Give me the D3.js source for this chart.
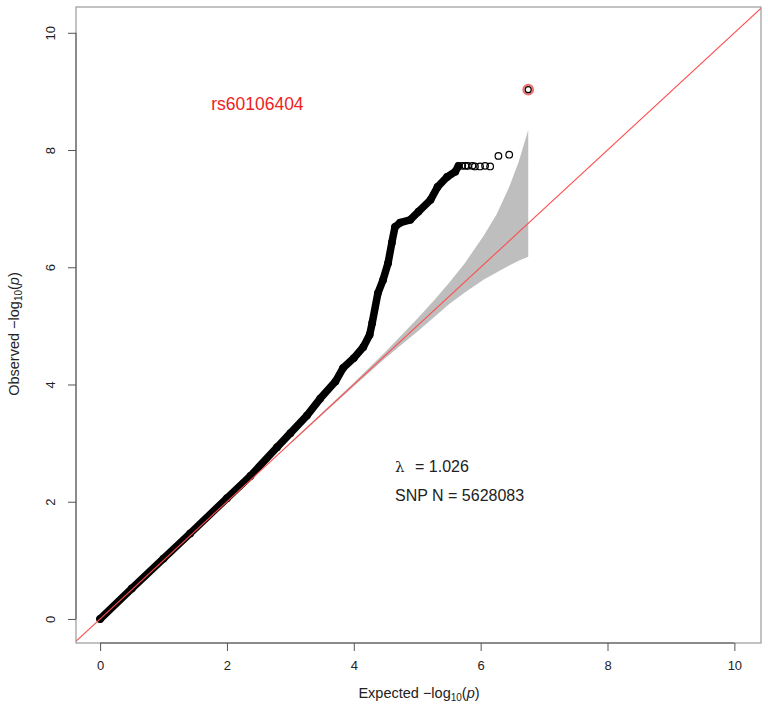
<!DOCTYPE html>
<html lang="en">
<head>
    <meta charset="utf-8">
    <title>QQ Plot</title>
    <script src="https://cdn.jsdelivr.net/npm/d3@7"></script>
</head>
<style>
    body {
        margin: 0;
        padding: 0;
        background-color: #ffffff;
        font-family: "Liberation Sans", Arial, sans-serif;
    }
    .axis-title {
        font-size: 14.5px;
        fill: #222;
    }
</style>
<body>
    <svg width="768" height="709" id="chart"></svg>

    <script>
        var denseX = [0, 0.5, 1.0, 1.42, 2.0, 2.37, 2.79, 3.0, 3.26, 3.47, 3.71, 3.83, 4.0, 4.15, 4.25, 4.29, 4.38, 4.46, 4.54, 4.60, 4.65, 4.73, 4.89, 5.02, 5.21, 5.32, 5.47, 5.60, 5.65];
        var denseY = [0, 0.52, 1.03, 1.46, 2.06, 2.44, 2.93, 3.17, 3.47, 3.76, 4.05, 4.28, 4.45, 4.64, 4.85, 5.05, 5.56, 5.78, 6.07, 6.42, 6.69, 6.76, 6.81, 6.95, 7.15, 7.37, 7.54, 7.63, 7.73];
        // the sparse tail of single points
        var tailX = [5.71, 5.76, 5.80, 5.87, 5.91, 5.99, 6.07, 6.15, 6.28, 6.45];
        var tailY = [7.73, 7.73, 7.73, 7.73, 7.72, 7.72, 7.73, 7.72, 7.90, 7.92];
        // top SNP
        var topSnp = {name: "rs60106404", x: 6.75, y: 9.03};
        // 95% band
        var bandX = [3.0, 4.0, 4.5, 4.75, 5.0, 5.27, 5.5, 5.75, 6.05, 6.25, 6.45, 6.6, 6.75];
        var bandUpper = [3.01, 4.03, 4.56, 4.84, 5.12, 5.44, 5.73, 6.07, 6.54, 6.90, 7.37, 7.8, 8.34];
        var bandLower = [2.99, 3.97, 4.45, 4.68, 4.90, 5.15, 5.37, 5.57, 5.79, 5.91, 6.03, 6.11, 6.18];
        var ticks = [0, 2, 4, 6, 8, 10];
        var lambdaText = "= 1.026";
        var snpText = "SNP N = 5628083";

        var svg = d3.select("#chart");
        var plotL = 76, plotR = 761, plotT = 7, plotB = 643;

        var x = d3.scaleLinear().domain([-0.38, 10.42]).range([plotL, plotR]);
        var y = d3.scaleLinear().domain([-0.41, 10.44]).range([plotB, plotT]);

        svg.append("defs").append("clipPath").attr("id", "clip")
            .append("rect")
            .attr("x", plotL).attr("y", plotT)
            .attr("width", plotR - plotL).attr("height", plotB - plotT);

        // confidence band
        var band = bandX.map(function(d, i) { return {x: d, lo: bandLower[i], hi: bandUpper[i]}; });
        svg.append("path")
            .datum(band)
            .attr("fill", "#bebebe")
            .attr("d", d3.area()
                .x(function(d) { return x(d.x); })
                .y0(function(d) { return y(d.lo); })
                .y1(function(d) { return y(d.hi); }));

        // dense run of points
        var dense = denseX.map(function(d, i) { return [d, denseY[i]]; });
        svg.append("path")
            .datum(dense)
            .attr("fill", "none")
            .attr("stroke", "#000")
            .attr("stroke-width", 7.5)
            .attr("stroke-linecap", "round")
            .attr("stroke-linejoin", "round")
            .attr("d", d3.line()
                .x(function(d) { return x(d[0]); })
                .y(function(d) { return y(d[1]); }));

        var pts = dense.concat(tailX.map(function(d, i) { return [d, tailY[i]]; }));
        svg.append("g").selectAll("circle")
            .data(pts)
            .enter()
            .append("circle")
            .attr("cx", function(d) { return x(d[0]); })
            .attr("cy", function(d) { return y(d[1]); })
            .attr("r", 3.3)
            .attr("fill", "none")
            .attr("stroke", "#000")
            .attr("stroke-width", 1.2);

        // diagonal
        svg.append("line")
            .attr("clip-path", "url(#clip)")
            .attr("x1", x(-1)).attr("y1", y(-1))
            .attr("x2", x(11)).attr("y2", y(11))
            .attr("stroke", "#ff4d4d")
            .attr("stroke-width", 1.1);

        // highlighted top SNP
        svg.append("circle")
            .attr("cx", x(topSnp.x)).attr("cy", y(topSnp.y))
            .attr("r", 4.8)
            .attr("fill", "none")
            .attr("stroke", "#f07070")
            .attr("stroke-width", 2.2);
        svg.append("circle")
            .attr("cx", x(topSnp.x)).attr("cy", y(topSnp.y))
            .attr("r", 3)
            .attr("fill", "none")
            .attr("stroke", "#000")
            .attr("stroke-width", 1.2);

        svg.append("text")
            .attr("x", x(2.48)).attr("y", y(8.79) + 6)
            .attr("text-anchor", "middle")
            .attr("font-size", "17.5px")
            .attr("fill", "#ee2222")
            .text(topSnp.name);

        // box
        svg.append("rect")
            .attr("x", plotL).attr("y", plotT)
            .attr("width", plotR - plotL).attr("height", plotB - plotT)
            .attr("fill", "none")
            .attr("stroke", "#9a9a9a")
            .attr("stroke-width", 1.2);

        // axes
        var gx = svg.append("g")
            .attr("transform", "translate(0," + plotB + ")")
            .call(d3.axisBottom(x).tickValues(ticks).tickSize(8).tickPadding(10).tickFormat(d3.format("d")));
        gx.attr("font-size", 13).attr("font-family", null);
        gx.select(".domain").remove();
        gx.selectAll(".tick line").attr("stroke", "#555");
        gx.selectAll(".tick text").attr("fill", "#222");
        gx.append("line")
            .attr("x1", x(0)).attr("x2", x(10))
            .attr("stroke", "#555");

        var gy = svg.append("g")
            .attr("transform", "translate(" + plotL + ",0)")
            .call(d3.axisLeft(y).tickValues(ticks).tickSize(8).tickFormat(d3.format("d")));
        gy.attr("font-size", 13).attr("font-family", null);
        gy.select(".domain").remove();
        gy.selectAll(".tick line").attr("stroke", "#555");
        gy.selectAll(".tick text")
            .attr("fill", "#222")
            .attr("transform", "rotate(-90)")
            .attr("x", 0)
            .attr("y", -21)
            .attr("dy", 0)
            .attr("text-anchor", "middle");
        gy.append("line")
            .attr("y1", y(0)).attr("y2", y(10))
            .attr("stroke", "#555");

        // axis titles
        var xt = svg.append("text")
            .attr("class", "axis-title")
            .attr("x", 419).attr("y", 698)
            .attr("text-anchor", "middle");
        xt.append("tspan").text("Expected  \u2212log");
        xt.append("tspan").attr("font-size", "10px").attr("dy", 3).text("10");
        xt.append("tspan").attr("dy", -3).text("(");
        xt.append("tspan").attr("font-style", "italic").text("p");
        xt.append("tspan").text(")");

        var yt = svg.append("text")
            .attr("class", "axis-title")
            .attr("transform", "translate(19,334) rotate(-90)")
            .attr("text-anchor", "middle");
        yt.append("tspan").text("Observed  \u2212log");
        yt.append("tspan").attr("font-size", "10px").attr("dy", 3).text("10");
        yt.append("tspan").attr("dy", -3).text("(");
        yt.append("tspan").attr("font-style", "italic").text("p");
        yt.append("tspan").text(")");

        // lambda and count
        svg.append("text")
            .attr("x", 395).attr("y", 472)
            .attr("font-family", "'DejaVu Serif', serif")
            .attr("font-size", "15px")
            .attr("fill", "#222")
            .text("\u03bb");
        svg.append("text")
            .attr("x", 415).attr("y", 472)
            .attr("font-size", "16px")
            .attr("fill", "#222")
            .text(lambdaText);
        svg.append("text")
            .attr("x", 395).attr("y", 501)
            .attr("font-size", "16px")
            .attr("fill", "#222")
            .text(snpText);
    </script>
</body>
</html>
